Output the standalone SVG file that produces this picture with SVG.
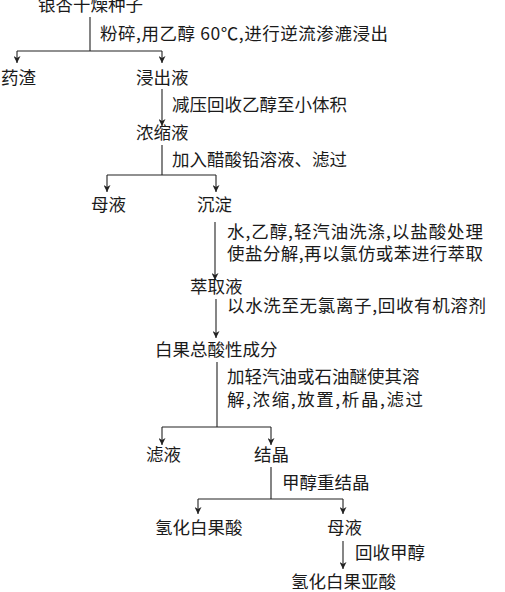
<svg xmlns="http://www.w3.org/2000/svg" width="505" height="592" viewBox="0 0 505 592">
<style>
text{font-family:"Noto Sans CJK SC","Liberation Serif",serif;font-size:17.5px;fill:#1a1a1a}
.c path{fill:none;stroke:#222;stroke-width:1.1}
.a{marker-end:url(#ah)}
</style>
<defs>
<marker id="ah" viewBox="0 0 10 10" refX="10" refY="5" markerWidth="10" markerHeight="7" markerUnits="userSpaceOnUse" orient="auto">
<path d="M0,0 L10,5 L0,10 L3,5 z" fill="#222"/>
</marker>
</defs>
<rect width="505" height="592" fill="#fff"/>
<g class="c" id="connectors">
<path d="M90,17 V51 M17,51 H162"/>
<path class="a" d="M17,51 V63"/>
<path class="a" d="M162,51 V63"/>
<path class="a" d="M162,89 V126"/>
<path d="M162,145 V175 M107,175 H216"/>
<path class="a" d="M107,175 V192"/>
<path class="a" d="M216,175 V192"/>
<path class="a" d="M215,222 V280"/>
<path class="a" d="M216,299 V338"/>
<path d="M217,362 V427 M162,427 H271"/>
<path class="a" d="M162,427 V445"/>
<path class="a" d="M271,427 V445"/>
<path d="M271,467 V499 M198,499 H343"/>
<path class="a" d="M198,499 V514"/>
<path class="a" d="M343,499 V514"/>
<path class="a" d="M343,541 V569"/>
</g>
<g id="n1"><text x="38" y="11">银杏干燥种子</text></g>
<g id="l1"><text x="100" y="40" textLength="288" lengthAdjust="spacing">粉碎,用乙醇 60℃,进行逆流渗漉浸出</text></g>
<g id="n2"><text x="1" y="84">药渣</text></g>
<g id="n3"><text x="136" y="84">浸出液</text></g>
<g id="l2"><text x="172" y="111">减压回收乙醇至小体积</text></g>
<g id="n4"><text x="136" y="139">浓缩液</text></g>
<g id="l3"><text x="172" y="166">加入醋酸铅溶液、滤过</text></g>
<g id="n5"><text x="91" y="211">母液</text></g>
<g id="n6"><text x="197" y="211">沉淀</text></g>
<g id="l4"><text x="227" y="238" textLength="256" lengthAdjust="spacing">水,乙醇,轻汽油洗涤,以盐酸处理</text><text x="227" y="260" textLength="256" lengthAdjust="spacing">使盐分解,再以氯仿或苯进行萃取</text></g>
<g id="n7"><text x="190" y="293">萃取液</text></g>
<g id="l5"><text x="227" y="312" textLength="259" lengthAdjust="spacing">以水洗至无氯离子,回收有机溶剂</text></g>
<g id="n8"><text x="155" y="356">白果总酸性成分</text></g>
<g id="l6"><text x="227" y="383">加轻汽油或石油醚使其溶</text><text x="227" y="406" textLength="196" lengthAdjust="spacing">解,浓缩,放置,析晶,滤过</text></g>
<g id="n9"><text x="146" y="461">滤液</text></g>
<g id="n10"><text x="254" y="461">结晶</text></g>
<g id="l7"><text x="282" y="489">甲醇重结晶</text></g>
<g id="n11"><text x="155" y="534">氢化白果酸</text></g>
<g id="n12"><text x="327" y="534">母液</text></g>
<g id="l8"><text x="355" y="559">回收甲醇</text></g>
<g id="n13"><text x="291" y="588">氢化白果亚酸</text></g>
</svg>
